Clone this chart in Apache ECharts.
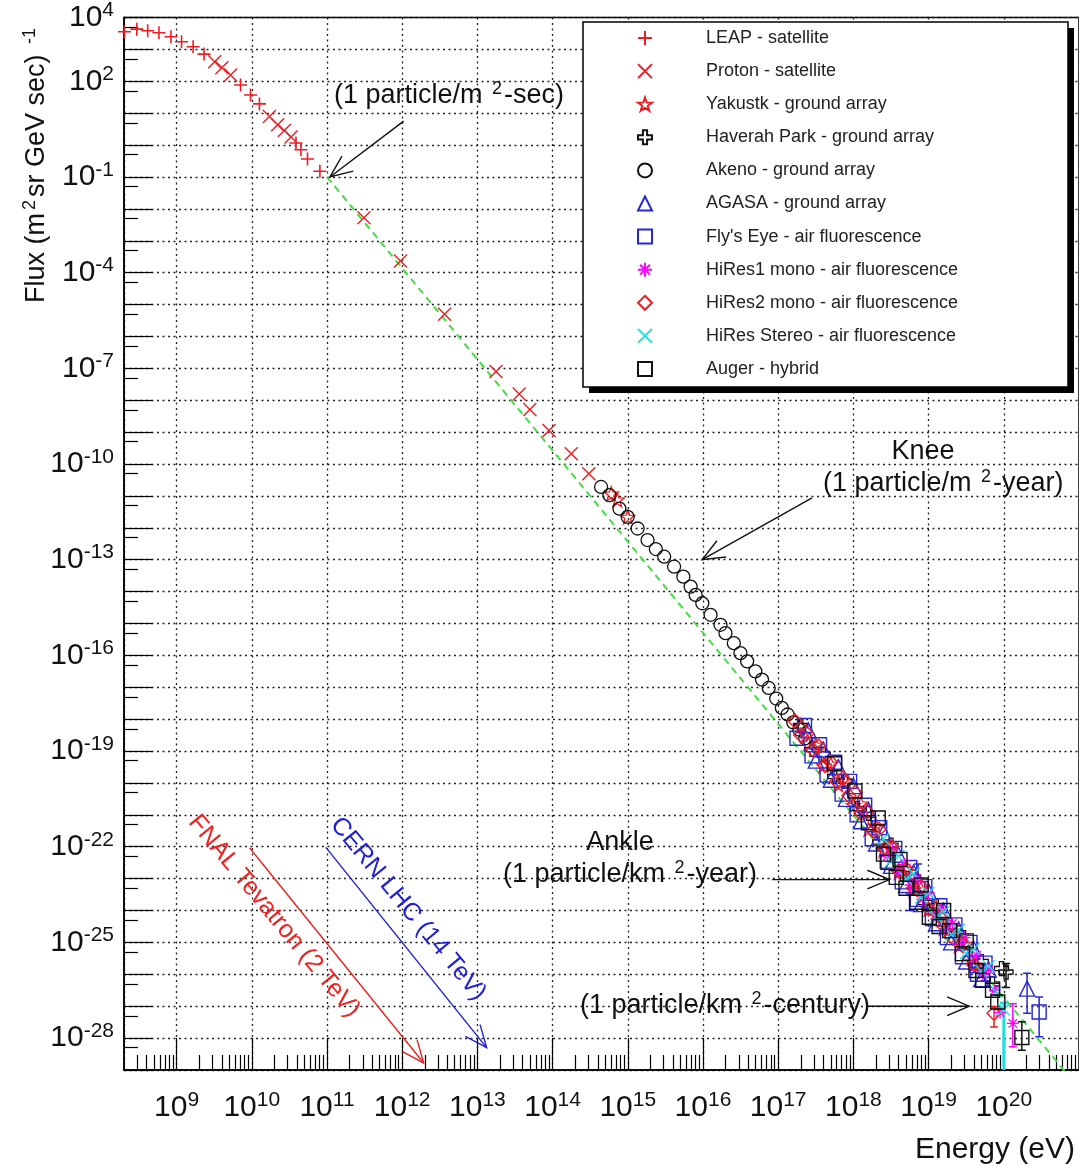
<!DOCTYPE html>
<html><head><meta charset="utf-8">
<script src="https://cdn.jsdelivr.net/npm/echarts@6/dist/echarts.min.js"></script>
<style>html,body{margin:0;padding:0;background:#fff}#c{width:1079px;height:1166px}</style>
</head><body><div id="c"></div>
<script>
// All values are log10: x = log10(E / eV), y = log10(Flux / (m^2 sr GeV sec)^-1)
const xTickLabels = [9,10,11,12,13,14,15,16,17,18,19,20];
const yTickLabels = [4,2,-1,-4,-7,-10,-13,-16,-19,-22,-25,-28];

const leap = [[8.307,3.553],[8.471,3.634],[8.616,3.584],[8.766,3.522],[8.925,3.397],[9.066,3.241],[9.220,3.084],[9.365,2.853],[9.851,1.884],[9.983,1.572],[10.102,1.291],[10.588,0.063],[10.654,-0.147],[10.741,-0.438],[10.906,-0.822]];
const proton = [[9.507,2.616],[9.603,2.428],[9.719,2.197],[10.235,0.897],[10.344,0.634],[10.433,0.459],[10.522,0.25],[11.492,-2.281],[11.977,-3.634],[12.564,-5.303],[13.248,-7.103],[13.556,-7.803],[13.698,-8.291],[13.953,-8.947],[14.248,-9.678],[14.482,-10.303]];
const yakutsk = [[14.78,-10.93],[14.86,-11.12],[15.0,-11.66],[17.3,-18.2],[17.4,-18.75],[17.5,-18.8],[17.6,-19.45],[17.7,-19.4],[17.8,-20.05],[17.9,-19.95],[18.0,-20.7],[18.1,-20.65],[18.2,-21.45],[18.3,-21.35],[18.4,-22.1],[18.5,-22.05],[18.6,-22.8],[18.7,-22.7],[18.8,-23.35],[18.9,-23.3],[19.0,-23.95],[19.1,-23.9],[19.2,-24.55],[19.3,-24.5],[19.4,-25.1],[19.5,-25.05],[19.6,-25.7]];
const haverah = [[17.3,-18.2],[17.45,-18.95],[17.6,-19.1],[17.75,-19.8],[17.9,-19.95],[18.05,-20.8],[18.2,-20.95],[18.35,-21.85],[18.5,-21.95],[18.65,-22.85],[18.8,-22.95],[18.95,-23.75],[19.1,-23.85],[19.25,-24.65],[19.4,-24.7],[19.55,-25.5],[19.7,-25.6],[19.85,-26.3],[19.97,-25.82],[20.03,-25.93]];
const akeno = [[14.645,-10.719],[14.756,-10.978],[14.889,-11.397],[14.998,-11.656],[15.131,-12.022],[15.263,-12.384],[15.373,-12.666],[15.484,-12.906],[15.616,-13.219],[15.739,-13.531],[15.836,-13.844],[15.902,-14.103],[15.991,-14.366],[16.101,-14.728],[16.233,-15.041],[16.299,-15.303],[16.410,-15.616],[16.498,-15.928],[16.587,-16.188],[16.696,-16.5],[16.785,-16.759],[16.874,-17.022],[16.974,-17.353],[17.049,-17.647],[17.125,-17.853],[17.2,-18.1],[17.28,-18.33],[17.36,-18.6]];
const agasa = [[17.4,-18.35],[17.5,-19.3],[17.6,-18.95],[17.7,-19.9],[17.8,-19.5],[17.9,-20.5],[18.0,-20.1],[18.1,-21.2],[18.2,-20.85],[18.3,-21.9],[18.4,-21.55],[18.5,-22.6],[18.6,-22.25],[18.7,-23.2],[18.8,-22.8],[18.9,-23.8],[19.0,-23.4],[19.1,-24.4],[19.2,-24.0],[19.3,-25.0],[19.4,-24.6],[19.5,-25.6],[19.6,-25.2],[19.7,-26.15],[19.8,-25.85],[20.31,-26.45]];
const flysEye = [[17.25,-18.6],[17.35,-18.2],[17.45,-19.15],[17.55,-18.8],[17.65,-19.75],[17.75,-19.35],[17.85,-20.35],[17.95,-19.95],[18.05,-21.0],[18.15,-20.7],[18.25,-21.75],[18.35,-21.4],[18.45,-22.45],[18.55,-22.05],[18.65,-23.1],[18.75,-22.65],[18.85,-23.65],[18.95,-23.25],[19.05,-24.25],[19.15,-23.85],[19.25,-24.85],[19.35,-24.45],[19.45,-25.45],[19.55,-25.0],[19.65,-26.0],[19.75,-25.65],[20.47,-27.18]];
const hires1 = [[18.45,-22.3],[18.52,-22.1],[18.6,-22.75],[18.68,-22.55],[18.76,-23.2],[18.84,-23.0],[18.92,-23.65],[19.0,-23.45],[19.08,-24.15],[19.16,-23.95],[19.24,-24.6],[19.32,-24.4],[19.4,-25.05],[19.48,-24.85],[19.56,-25.55],[19.64,-25.4],[19.72,-26.0],[19.8,-25.85],[19.88,-26.5],[19.95,-27.2],[20.12,-27.54]];
const hires2 = [[17.22,-18.05],[17.3,-18.5],[17.38,-18.45],[17.46,-18.95],[17.54,-18.85],[17.62,-19.45],[17.7,-19.35],[17.78,-19.95],[17.86,-19.85],[17.94,-20.4],[18.02,-20.3],[18.1,-20.95],[18.18,-20.9],[18.26,-21.5],[18.34,-21.45],[18.42,-22.05],[18.5,-22.0],[18.6,-22.75],[18.7,-22.7],[18.8,-23.3],[18.9,-23.25],[19.0,-23.95],[19.15,-24.2],[19.3,-24.8],[19.45,-25.05],[19.6,-25.7],[19.87,-27.22]];
const hiresStereo = [[18.4,-21.75],[18.5,-22.45],[18.6,-22.3],[18.7,-23.0],[18.8,-22.85],[18.9,-23.6],[19.0,-23.45],[19.1,-24.2],[19.2,-24.05],[19.3,-24.75],[19.4,-24.6],[19.5,-25.35],[19.6,-25.2],[19.7,-25.9],[19.8,-25.75],[19.9,-26.55],[20.0,-27.1]];
const auger = [[17.75,-19.4],[18.02,-20.25],[18.2,-21.25],[18.33,-21.1],[18.40,-22.23],[18.46,-22.49],[18.57,-22.96],[18.62,-22.4],[18.70,-23.30],[18.84,-23.74],[18.9,-23.2],[19.01,-24.21],[19.14,-24.5],[19.2,-24.0],[19.28,-24.63],[19.45,-25.35],[19.5,-24.95],[19.63,-25.88],[19.72,-26.19],[19.85,-26.5],[19.92,-26.87],[20.24,-27.98]];

// error bars: [x, yLow, yHigh]
const errBlack = [[20.03,-25.66,-26.41],[20.24,-27.49,-28.38],[19.92,-26.65,-27.1]];
const errBlue = [[20.31,-25.97,-27.22],[20.47,-26.71,-27.96],[18.86,-22.54,-23.38],[18.75,-23.48,-24.0],[18.95,-23.1,-23.95],[19.62,-25.5,-25.95],[19.75,-25.7,-26.2]];
const errMagenta = [[20.12,-26.92,-28.27]];
const errRed = [[19.87,-27.02,-27.65]];
const errCyan = [[20.0,-26.9,-30]];

// green dashed reference line
const refLine = [[11,-1],[21,-29.58]];

// annotation arrows: [x1,y1,x2,y2,colorIndex]
const arrows = [[12.02,0.75,11.04,-1.0,0],[17.45,-11.06,15.99,-13.0,0],[16.92,-23.03,18.48,-23.03,0],[18.17,-27.0,19.54,-27.0,0],[9.97,-22.03,12.286,-28.78,1],[10.985,-22.02,13.123,-28.30,2]];
const arrowColors = ['#111','#ee2020','#2020d8'];

const FF = 'Liberation Sans, Arial, sans-serif';
const RED = '#ee1d23', BLUE = '#2727d6', MAG = '#ff00ff', CYAN = '#22dede', BLK = '#111';

const SYM = {
  plus: 'path://M5,0L5,10M0,5L10,5',
  cross: 'path://M0,0L10,10M10,0L0,10',
  star: 'path://M5,0L6.18,3.38L9.76,3.45L6.9,5.62L7.94,9.05L5,7L2.06,9.05L3.1,5.62L0.24,3.45L3.82,3.38Z',
  greek: 'path://M3.5,0L6.5,0L6.5,3.5L10,3.5L10,6.5L6.5,6.5L6.5,10L3.5,10L3.5,6.5L0,6.5L0,3.5L3.5,3.5Z',
  aster: 'path://M5,0L5,10M0,5L10,5M1.5,1.5L8.5,8.5M8.5,1.5L1.5,8.5'
};

const minorX = [];
for (let n = 8; n <= 20; n++) for (let k = 2; k <= 9; k++) { const v = n + Math.log10(k); if (v > 8.302 && v < 21) minorX.push(v); }
const minorY = [];
for (let n = -29; n <= 3; n++) minorY.push(n + Math.log10(5));

function scat(name, data, symbol, size, color, bw) {
  return { name, type: 'scatter', data, symbol, symbolSize: size, z: 3,
    itemStyle: { color: 'rgba(0,0,0,0)', borderColor: color, borderWidth: bw || 1.4, opacity: 1 },
    emphasis: { disabled: true } };
}
function errSeries(data, color, lw) {
  return { type: 'custom', data, itemStyle: { color }, clip: true, z: 3, silent: true, encode: { x: 0, y: [1, 2] },
    renderItem: (params, api) => {
      const x = api.value(0);
      const lo = api.coord([x, api.value(1)]), hi = api.coord([x, api.value(2)]);
      const w = 4; const st = { stroke: color, lineWidth: lw || 1.5 };
      return { type: 'group', children: [
        { type: 'line', shape: { x1: lo[0], y1: lo[1], x2: hi[0], y2: hi[1] }, style: st },
        { type: 'line', shape: { x1: lo[0]-w, y1: lo[1], x2: lo[0]+w, y2: lo[1] }, style: st },
        { type: 'line', shape: { x1: hi[0]-w, y1: hi[1], x2: hi[0]+w, y2: hi[1] }, style: st } ] };
    } };
}
function arrowRender(params, api) {
  const p1 = api.coord([api.value(0), api.value(1)]);
  const p2 = api.coord([api.value(2), api.value(3)]);
  const ang = Math.atan2(p2[1]-p1[1], p2[0]-p1[0]);
  const L = 24, a = 0.40;
  const h1 = [p2[0] - L*Math.cos(ang - a), p2[1] - L*Math.sin(ang - a)];
  const h2 = [p2[0] - L*Math.cos(ang + a), p2[1] - L*Math.sin(ang + a)];
  const color = arrowColors[api.value(4)];
  return { type: 'group', children: [
    { type: 'line', shape: { x1: p1[0], y1: p1[1], x2: p2[0], y2: p2[1] }, style: { stroke: color, lineWidth: 1.4 } },
    { type: 'polyline', shape: { points: [h1, p2, h2] }, style: { stroke: color, fill: 'none', lineWidth: 1.4 } } ] };
}

const tickLabelRich = {
  b: { fontSize: 30, fontFamily: FF, color: BLK, lineHeight: 35 },
  e: { fontSize: 21, fontFamily: FF, color: BLK, verticalAlign: 'top', lineHeight: 21 }
};
const isInt = v => Math.abs(v - Math.round(v)) < 1e-6;
const dotted = { color: '#222', width: 1.3, type: [2, 3.5] };

function annText(x, y, text, opts) {
  return Object.assign({ type: 'text', x, y, z: 6, style: Object.assign({ text, fontSize: 27, fontFamily: FF, fill: BLK, verticalAlign: 'middle', align: 'left', lineHeight: 32, rich: { s: { fontSize: 18, fontFamily: FF, fill: BLK, verticalAlign: 'top', lineHeight: 32, padding: [0, 2, 0, 2] } } }, opts && opts.style || {}) }, opts && opts.el || {});
}

const chart = echarts.init(document.getElementById('c'), null, { renderer: 'canvas' });
chart.setOption({
  animation: false,
  backgroundColor: '#fff',
  grid: { left: 124, top: 14, right: -5, bottom: 96, show: true, borderColor: '#000', borderWidth: 1.5, backgroundColor: 'rgba(0,0,0,0)' },
  xAxis: [
    { type: 'value', min: Math.log10(2e8), max: 21, splitNumber: 13, position: 'bottom',
      axisLine: { show: true, onZero: false, lineStyle: { color: '#000', width: 1.5 } },
      axisTick: { show: true, inside: true, length: 32, lineStyle: { color: '#000', width: 1.2 } },
      axisLabel: { show: true, margin: 20, showMinLabel: false, showMaxLabel: false, rich: tickLabelRich,
        formatter: v => (isInt(v) && xTickLabels.includes(Math.round(v))) ? '{b|10}{e|' + Math.round(v) + '}' : '' },
      splitLine: { show: true, lineStyle: dotted } },
    { type: 'value', min: Math.log10(2e8), max: 21, position: 'bottom',
      axisLine: { show: false, onZero: false }, axisLabel: { show: false }, splitLine: { show: false },
      axisTick: { show: true, inside: true, length: 15, customValues: minorX, lineStyle: { color: '#000', width: 1.2 } } }
  ],
  yAxis: [
    { type: 'value', min: -29, max: 4, splitNumber: 33, position: 'left',
      axisLine: { show: true, onZero: false, lineStyle: { color: '#000', width: 1.5 } },
      axisTick: { show: true, inside: true, length: 28, lineStyle: { color: '#000', width: 1.2 } },
      axisLabel: { show: true, margin: 10, rich: tickLabelRich,
        formatter: v => (isInt(v) && yTickLabels.includes(Math.round(v))) ? '{b|10}{e|' + Math.round(v) + '}' : '' },
      splitLine: { show: true, lineStyle: dotted } },
    { type: 'value', min: -29, max: 4, position: 'left',
      axisLine: { show: false, onZero: false }, axisLabel: { show: false }, splitLine: { show: false },
      axisTick: { show: true, inside: true, length: 14, customValues: minorY, lineStyle: { color: '#000', width: 1.2 } } }
  ],
  legend: {
    orient: 'vertical', left: 637, top: 29, z: 5, selectedMode: false, padding: 0,
    itemWidth: 14, itemHeight: 14, itemGap: 15.1,
    textStyle: { fontSize: 18, fontFamily: FF, color: '#222', padding: [0, 0, 0, 49], lineHeight: 14 },
    data: ['LEAP - satellite','Proton - satellite','Yakustk - ground array','Haverah Park - ground array','Akeno - ground array','AGASA - ground array',"Fly's Eye - air fluorescence",'HiRes1 mono - air fluorescence','HiRes2 mono - air fluorescence','HiRes Stereo - air fluorescence','Auger - hybrid']
  },
  graphic: [
    { type: 'rect', z: 4, shape: { x: 589, y: 28, width: 485, height: 365 }, style: { fill: '#000' } },
    { type: 'rect', z: 4, shape: { x: 583, y: 22, width: 485, height: 365 }, style: { fill: '#fff', stroke: '#000', lineWidth: 1.5 } },
    annText(334, 96, '(1 particle/m {s|2}-sec)'),
    annText(923, 452, 'Knee', { style: { align: 'center' } }),
    annText(823, 484, '(1 particle/m {s|2}-year)'),
    annText(620, 843, 'Ankle', { style: { align: 'center' } }),
    annText(503, 875, '(1 particle/km {s|2}-year)'),
    annText(580, 1006, '(1 particle/km {s|2}-century)'),
    annText(274, 916, 'FNAL Tevatron (2 TeV)', { style: { align: 'center', fill: '#ee2020', fontSize: 25 }, el: { rotation: -0.88 } }),
    annText(408, 909, 'CERN LHC (14 TeV)', { style: { align: 'center', fill: '#2020d8', fontSize: 25 }, el: { rotation: -0.88 } }),
    { type: 'text', x: 1075, y: 1150, z: 6, style: { text: 'Energy (eV)', fontSize: 30, fontFamily: FF, fill: BLK, align: 'right', verticalAlign: 'middle' } },
    { type: 'text', x: 37, y: 164, z: 6, rotation: Math.PI / 2, style: { text: 'Flux (m{s|2}sr GeV sec) {s|-1}', fontSize: 27, fontFamily: FF, fill: BLK, align: 'center', verticalAlign: 'middle', lineHeight: 32,
        rich: { s: { fontSize: 18, fontFamily: FF, fill: BLK, verticalAlign: 'top', lineHeight: 32, padding: [0, 3, 0, 3] } } } }
  ],
  series: [
    { type: 'line', data: refLine, symbol: 'none', z: 2, silent: true, lineStyle: { color: '#44dd44', width: 2, type: [7, 5] } },
    scat('LEAP - satellite', leap, SYM.plus, 13, RED, 1.6),
    scat('Proton - satellite', proton, SYM.cross, 13, RED, 1.4),
    scat('Yakustk - ground array', yakutsk, SYM.star, 14, RED, 1.3),
    scat('Haverah Park - ground array', haverah, SYM.greek, 14, BLK, 1.3),
    scat('Akeno - ground array', akeno, 'circle', 13, BLK, 1.3),
    scat('AGASA - ground array', agasa, 'triangle', 15, BLUE, 1.4),
    scat("Fly's Eye - air fluorescence", flysEye, 'rect', 14, BLUE, 1.4),
    scat('HiRes1 mono - air fluorescence', hires1, SYM.aster, 12, MAG, 1.3),
    scat('HiRes2 mono - air fluorescence', hires2, 'diamond', 14, RED, 1.4),
    scat('HiRes Stereo - air fluorescence', hiresStereo, SYM.cross, 12, CYAN, 1.4),
    scat('Auger - hybrid', auger, 'rect', 14, BLK, 1.4),
    errSeries(errBlack, BLK), errSeries(errBlue, BLUE), errSeries(errMagenta, MAG), errSeries(errRed, RED), errSeries(errCyan, CYAN, 3),
    { type: 'custom', data: arrows, renderItem: arrowRender, z: 5, silent: true, clip: false, encode: { x: [0, 2], y: [1, 3] } }
  ]
});
</script></body></html>
